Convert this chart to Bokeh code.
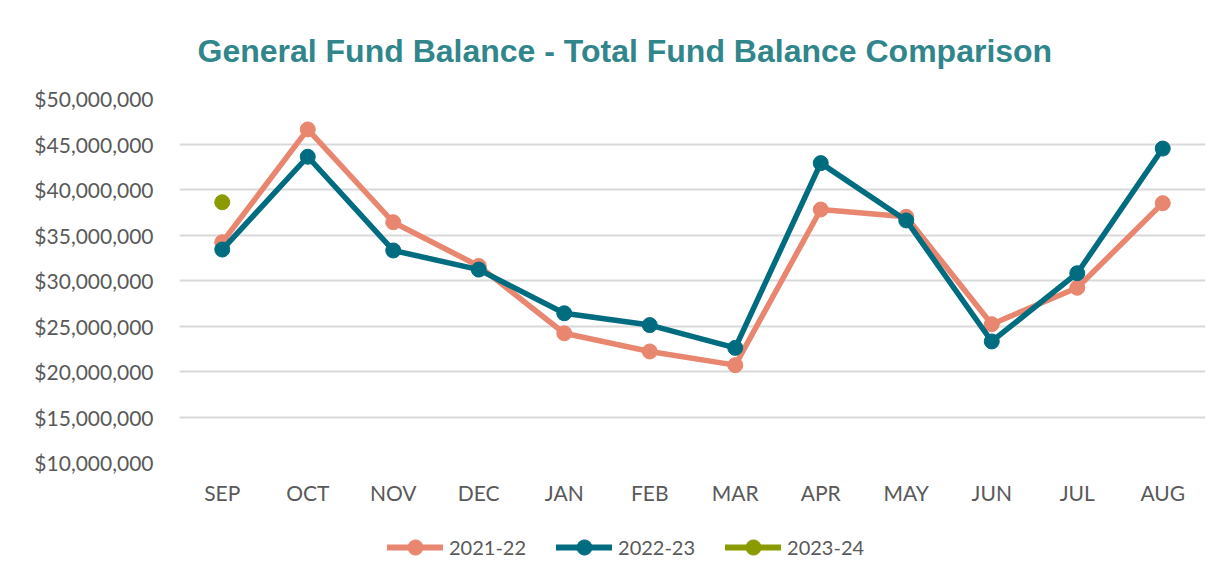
from bokeh.plotting import figure
from bokeh.layouts import column
from bokeh.models import Legend, LegendItem, NumeralTickFormatter, FactorRange, Range1d, FixedTicker
from bokeh.embed import file_html
from bokeh.resources import INLINE

months = ["SEP", "OCT", "NOV", "DEC", "JAN", "FEB", "MAR", "APR", "MAY", "JUN", "JUL", "AUG"]
fy2122 = [34.2, 46.6, 36.4, 31.6, 24.2, 22.2, 20.7, 37.8, 37.0, 25.2, 29.2, 38.5]
fy2223 = [33.4, 43.6, 33.3, 31.2, 26.4, 25.1, 22.6, 42.9, 36.6, 23.3, 30.8, 44.5]
fy2324_months = ["SEP"]
fy2324 = [38.6]
y_ticks = [10, 15, 20, 25, 30, 35, 40, 45, 50]
series_labels = ["2021-22", "2022-23", "2023-24"]

scale = 1_000_000
colors = ["#E8866F", "#006C80", "#8A9B00"]
LW = 5.5
MS = 15

p = figure(width=1210, height=520, x_range=FactorRange(*months), y_range=Range1d(10e6, 50e6),
           output_backend="svg", toolbar_location=None,
           min_border_left=179, min_border_right=5, min_border_bottom=58, min_border_top=98)

p.title.text = "General Fund Balance - Total Fund Balance Comparison"
p.title.align = "left"
p.title.offset = 18
p.title.text_color = "#31868C"
p.title.text_font = "Liberation Sans"
p.title.text_font_style = "bold"
p.title.text_font_size = "32px"
p.title.standoff = 59

p.outline_line_color = None
p.xgrid.grid_line_color = None
p.ygrid.grid_line_color = "#D9D9D9"
p.ygrid.grid_line_width = 2
p.yaxis.ticker = FixedTicker(ticks=[v * scale for v in y_ticks])
p.yaxis.formatter = NumeralTickFormatter(format="$0,0")
for ax in (p.xaxis[0], p.yaxis[0]):
    ax.axis_line_color = None
    ax.major_tick_line_color = None
    ax.minor_tick_line_color = None
    ax.major_label_text_font = "Lato"
    ax.major_label_text_font_size = "21px"
    ax.major_label_text_color = "#595959"
p.yaxis.major_label_standoff = 20
p.xaxis.major_label_standoff = 11

y1 = [v * scale for v in fy2122]
y2 = [v * scale for v in fy2223]
y3 = [v * scale for v in fy2324]

for xs, ys, c in ((months, y1, colors[0]), (months, y2, colors[1]), (fy2324_months, y3, colors[2])):
    p.line(xs, ys, line_color=c, line_width=LW, line_join="round", line_cap="round")
    p.scatter(xs, ys, size=MS, color=c)

# legend strip below the chart (its renderers sit outside its visible range)
lg = figure(width=1210, height=50, x_range=Range1d(0, 1), y_range=Range1d(0, 1),
            output_backend="svg", toolbar_location=None, min_border=0,
            min_border_left=179, min_border_right=5)
lg.axis.visible = False
lg.grid.grid_line_color = None
lg.outline_line_color = None
items = []
for lab, c in zip(series_labels, colors):
    lr = lg.line([-5, -4], [-5, -5], line_color=c, line_width=6, line_cap="round")
    sr = lg.scatter([-5], [-5], color=c, size=MS)
    items.append(LegendItem(label=lab, renderers=[lr, sr]))
legend = Legend(items=items, orientation="horizontal", location=(208, 4),
                label_text_font="Lato", label_text_font_size="20px", label_text_color="#595959",
                glyph_width=56, glyph_height=38, spacing=30, label_standoff=6,
                border_line_color=None, background_fill_alpha=0, margin=0, padding=0)
lg.add_layout(legend, "center")

layout = column(p, lg, spacing=0)
open("out.html", "w").write(file_html(layout, INLINE))
